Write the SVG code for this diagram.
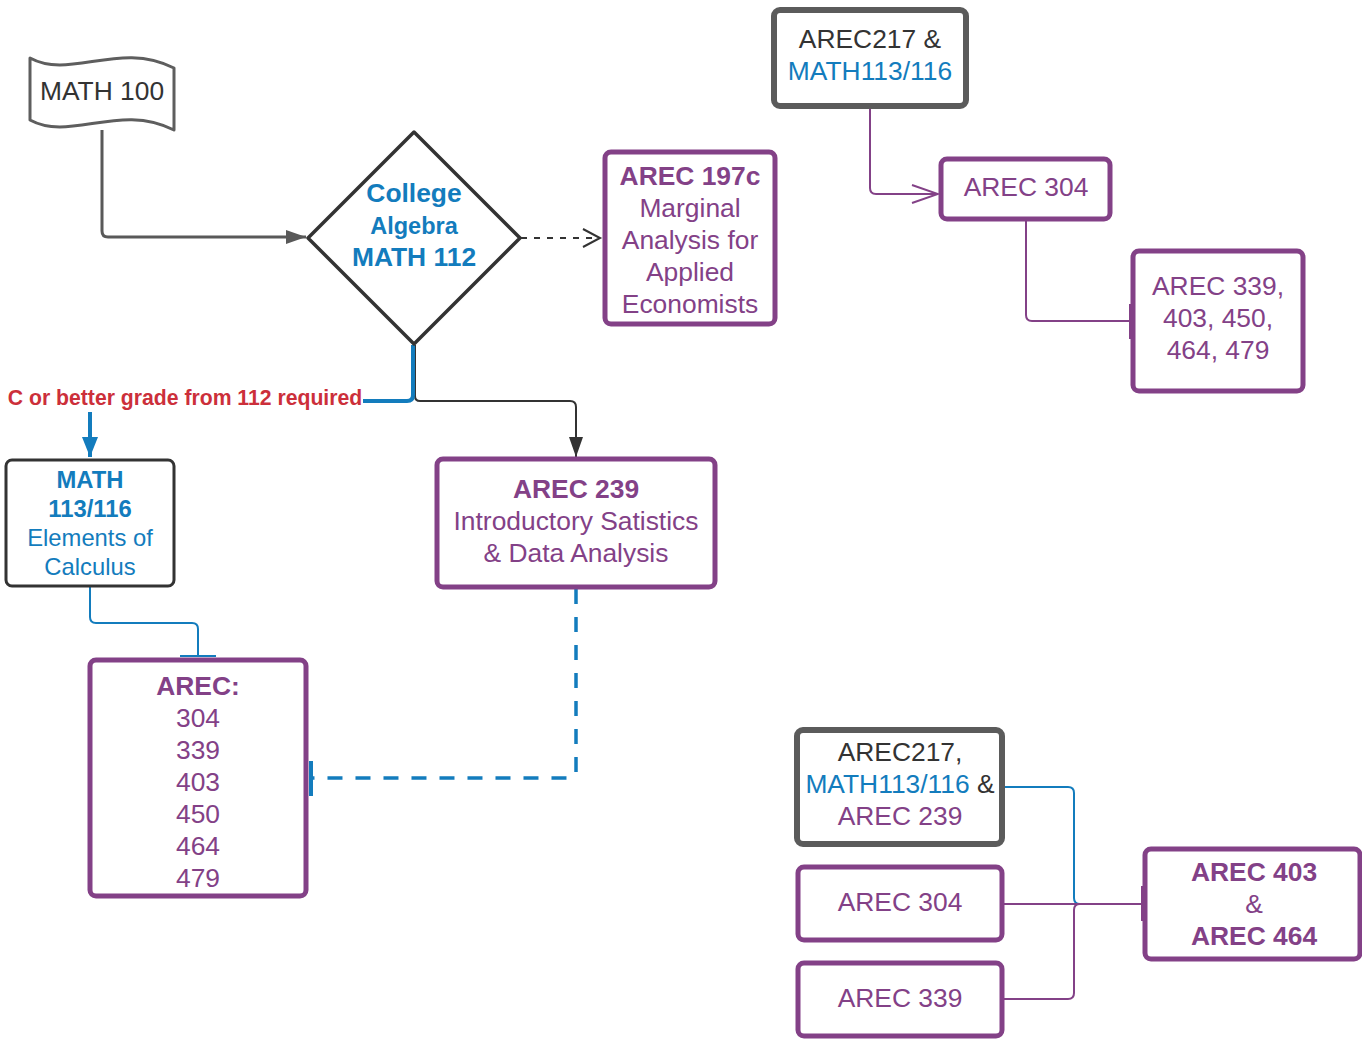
<svg xmlns="http://www.w3.org/2000/svg" width="1362" height="1047" viewBox="0 0 1362 1047">
<style>
text{font-family:"Liberation Sans",Arial,sans-serif;font-size:26.4px;text-anchor:middle}
.b{font-weight:bold}
.pt{fill:#834187}
.bt{fill:#137cbd}
.dt{fill:#333333}
.pbox{fill:#fff;stroke:#834187;stroke-width:5}
.gbox{fill:#fff;stroke:#5b5b5b;stroke-width:6}
.kbox{fill:#fff;stroke:#333;stroke-width:3}
.c{fill:none;stroke-linejoin:round}
</style>
<defs>
<marker id="aGray" markerUnits="userSpaceOnUse" markerWidth="20" markerHeight="14" refX="20" refY="7" orient="auto"><path d="M0,0 L20,7 L0,14 z" fill="#595959"/></marker>
<marker id="aDark" markerUnits="userSpaceOnUse" markerWidth="20" markerHeight="14" refX="20" refY="7" orient="auto"><path d="M0,0 L20,7 L0,14 z" fill="#333"/></marker>
<marker id="aBlue" markerUnits="userSpaceOnUse" markerWidth="20" markerHeight="16" refX="20" refY="8" orient="auto"><path d="M0,0 L20,8 L0,16 z" fill="#137cbd"/></marker>
<marker id="oDark" markerUnits="userSpaceOnUse" markerWidth="22" markerHeight="22" refX="19" refY="11" orient="auto"><path d="M2,2 L19,11 L2,20" fill="none" stroke="#333" stroke-width="2"/></marker>
<marker id="oPurple" markerUnits="userSpaceOnUse" markerWidth="30" markerHeight="22" refX="28" refY="11" orient="auto"><path d="M2,2 L28,11 L2,20" fill="none" stroke="#834187" stroke-width="2"/></marker>
</defs>
<rect width="1362" height="1047" fill="#fff"/>
<g id="connectors">
<path class="c" d="M102,130 V231 Q102,237 108,237 H306" stroke="#595959" stroke-width="3" marker-end="url(#aGray)"/>
<path class="c" d="M521,238 H600" stroke="#333" stroke-width="2" stroke-dasharray="6,7" marker-end="url(#oDark)"/>
<path class="c" d="M415,345 V396 Q415,401 420,401 H570 Q576,401 576,407 V457" stroke="#333" stroke-width="2" marker-end="url(#aDark)"/>
<path class="c" d="M413,345 V395 Q413,401 407,401 H90 V457" stroke="#137cbd" stroke-width="4" marker-end="url(#aBlue)"/>
<rect x="5" y="386" width="358" height="26" fill="#fff"/>
<text x="185" y="405" class="b" style="font-size:21.2px;fill:#cc2f3a">C or better grade from 112 required</text>
<path class="c" d="M90,587 V617 Q90,623 96,623 H192 Q198,623 198,629 V657" stroke="#137cbd" stroke-width="2"/>
<line x1="180" y1="656" x2="216" y2="656" stroke="#137cbd" stroke-width="2"/>
<path class="c" d="M576,589 V772 Q576,778 570,778 H310" stroke="#137cbd" stroke-width="3.5" stroke-dasharray="15,13"/>
<line x1="311" y1="761" x2="311" y2="796" stroke="#137cbd" stroke-width="4"/>
<path class="c" d="M870,107 V188 Q870,194 876,194 H938" stroke="#834187" stroke-width="2" marker-end="url(#oPurple)"/>
<path class="c" d="M1026,220 V315 Q1026,321 1032,321 H1131" stroke="#834187" stroke-width="2"/>
<line x1="1131" y1="304" x2="1131" y2="339" stroke="#834187" stroke-width="4"/>
<path class="c" d="M1003,787 H1068 Q1074,787 1074,793 V898 Q1074,904 1080,904 H1142" stroke="#137cbd" stroke-width="2"/>
<path class="c" d="M1003,999 H1068 Q1074,999 1074,993 V910 Q1074,904 1080,904 H1142" stroke="#834187" stroke-width="2"/>
<path class="c" d="M1003,904 H1142" stroke="#834187" stroke-width="2"/>
<line x1="1143" y1="886" x2="1143" y2="921" stroke="#834187" stroke-width="4"/>
</g>
<g id="math100">
<path d="M30,58 C70,80 120,40 174,68 V130 C120,102 70,142 30,120 Z" fill="#fff" stroke="#5e5e5e" stroke-width="3" stroke-linejoin="round"/>
<text x="102" y="100" class="dt">MATH 100</text>
</g>
<g id="math112">
<path d="M414,132 L520,238 L414,344 L308,238 Z" fill="#fff" stroke="#333" stroke-width="3.5" stroke-linejoin="round"/>
<text x="414" y="202" class="b bt">College</text>
<text x="414" y="234" class="b bt" style="font-size:23.5px">Algebra</text>
<text x="414" y="266" class="b bt">MATH 112</text>
</g>
<g id="arec197c">
<rect x="605" y="152" width="170" height="172" rx="6" class="pbox"/>
<text x="690" y="185" class="b pt">AREC 197c</text>
<text x="690" y="217" class="pt">Marginal</text>
<text x="690" y="249" class="pt">Analysis for</text>
<text x="690" y="281" class="pt">Applied</text>
<text x="690" y="313" class="pt">Economists</text>
</g>
<g id="math113">
<rect x="6" y="460" width="168" height="126" rx="6" class="kbox"/>
<text x="90" y="488" class="b bt" style="font-size:23.8px">MATH</text>
<text x="90" y="517" class="b bt" style="font-size:23.8px">113/116</text>
<text x="90" y="546" class="bt" style="font-size:23.8px">Elements of</text>
<text x="90" y="575" class="bt" style="font-size:23.8px">Calculus</text>
</g>
<g id="arec239">
<rect x="437" y="459" width="278" height="128" rx="6" class="pbox"/>
<text x="576" y="498" class="b pt">AREC 239</text>
<text x="576" y="530" class="pt">Introductory Satistics</text>
<text x="576" y="562" class="pt">&amp; Data Analysis</text>
</g>
<g id="arecList">
<rect x="90" y="660" width="216" height="236" rx="6" class="pbox"/>
<text x="198" y="695" class="b pt">AREC:</text>
<text x="198" y="727" class="pt">304</text>
<text x="198" y="759" class="pt">339</text>
<text x="198" y="791" class="pt">403</text>
<text x="198" y="823" class="pt">450</text>
<text x="198" y="855" class="pt">464</text>
<text x="198" y="887" class="pt">479</text>
</g>
<g id="arec217top">
<rect x="774" y="10" width="192" height="96" rx="6" class="gbox"/>
<text x="870" y="48" class="dt">AREC217 &amp;</text>
<text x="870" y="80" class="bt">MATH113/116</text>
</g>
<g id="arec304top">
<rect x="941" y="159" width="169" height="60" rx="6" class="pbox"/>
<text x="1026" y="196" class="pt">AREC 304</text>
</g>
<g id="arec339top">
<rect x="1133" y="251" width="170" height="140" rx="6" class="pbox"/>
<text x="1218" y="295" class="pt">AREC 339,</text>
<text x="1218" y="327" class="pt">403, 450,</text>
<text x="1218" y="359" class="pt">464, 479</text>
</g>
<g id="arec217bottom">
<rect x="797" y="730" width="205" height="114" rx="6" class="gbox"/>
<text x="900" y="761" class="dt">AREC217,</text>
<text x="900" y="793"><tspan class="bt">MATH113/116</tspan><tspan class="dt"> &amp;</tspan></text>
<text x="900" y="825" class="pt">AREC 239</text>
</g>
<g id="arec304bottom">
<rect x="798" y="867" width="204" height="73" rx="6" class="pbox"/>
<text x="900" y="911" class="pt">AREC 304</text>
</g>
<g id="arec339bottom">
<rect x="798" y="963" width="204" height="73" rx="6" class="pbox"/>
<text x="900" y="1007" class="pt">AREC 339</text>
</g>
<g id="arec403464">
<rect x="1145" y="849" width="215" height="110" rx="6" class="pbox"/>
<text x="1254" y="881" class="b pt">AREC 403</text>
<text x="1254" y="913" class="pt">&amp;</text>
<text x="1254" y="945" class="b pt">AREC 464</text>
</g>
</svg>
